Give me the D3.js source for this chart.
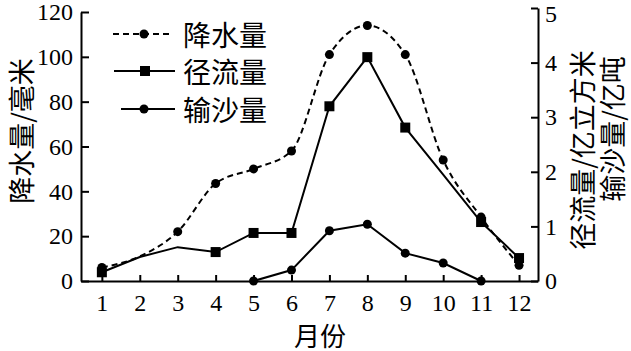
<!DOCTYPE html>
<html>
<head>
<meta charset="utf-8">
<script src="https://cdn.jsdelivr.net/npm/d3@7"></script>
<style>
  html, body { margin: 0; padding: 0; background: #fff; }
  svg { display: block; }
</style>
</head>
<body>
<svg id="chart" width="631" height="351"></svg>
<script>
// ---- data ----
const months = [1, 2, 3, 4, 5, 6, 7, 8, 9, 10, 11, 12];
const precipitation = [6, 11, 22, 43.5, 50, 58, 101, 114, 101, 54, 28.5, 7];      // mm (left axis)
const precipMarked  = [true, false, true, true, true, true, true, true, true, true, true, true];
const runoff = [0.16, 0.44, 0.62, 0.53, 0.88, 0.88, 3.2, 4.1, 2.81, 1.95, 1.08, 0.42]; // 亿立方米 (right axis)
const runoffMarked = [true, false, false, true, true, true, true, true, true, false, true, true];
const sediment = [null, null, null, null, 0, 0.2, 0.92, 1.04, 0.51, 0.33, 0, null];   // 亿吨 (right axis)
const leftTicks = [0, 20, 40, 60, 80, 100, 120];
const rightTicks = [0, 1, 2, 3, 4, 5];
const legendLabels = ["降水量", "径流量", "输沙量"];

// ---- layout ----
const svg = d3.select("#chart");
const numFont = "'Liberation Serif', 'DejaVu Serif', serif";
const cjkFont = "'Noto Sans CJK SC', sans-serif";

const x = d3.scaleLinear().domain([0.45, 12.5]).range([81, 538]);
const yL = d3.scaleLinear().domain([0, 120]).range([281, 12]);
const yR = d3.scaleLinear().domain([0, 5]).range([281, 8]);

// axes
function styleAxis(g) {
  g.selectAll("path.domain").attr("stroke", "#000").attr("stroke-width", 2);
  g.selectAll(".tick line").attr("stroke", "#000").attr("stroke-width", 2);
  g.selectAll(".tick text").attr("fill", "#000").style("font-family", numFont).style("font-size", "24px");
}

svg.append("g").attr("transform", "translate(81,0)")
  .call(d3.axisLeft(yL).tickValues(leftTicks).tickSizeInner(-8).tickSizeOuter(0).tickPadding(8))
  .call(styleAxis);

const rightAxis = svg.append("g").attr("transform", "translate(538,0)")
  .call(d3.axisRight(yR).tickValues(rightTicks).tickFormat(d3.format("d")).tickSizeInner(-7).tickSizeOuter(0).tickPadding(7))
  .call(styleAxis);
rightAxis.selectAll(".tick text").filter(d => d === 5).attr("dy", "0.55em");

svg.append("g").attr("transform", "translate(0,281)")
  .call(d3.axisBottom(x).tickValues(months).tickFormat(d3.format("d")).tickSizeInner(-6).tickSizeOuter(0).tickPadding(13))
  .call(styleAxis);

// lines
const precipLine = d3.line()
  .x((d, i) => x(months[i])).y(d => yL(d))
  .curve(d3.curveMonotoneX);
svg.append("path").datum(precipitation)
  .attr("d", precipLine).attr("fill", "none").attr("stroke", "#000")
  .attr("stroke-width", 2).attr("stroke-dasharray", "6,4");

const runoffLine = d3.line()
  .x((d, i) => x(months[i])).y(d => yR(d));
svg.append("path").datum(runoff)
  .attr("d", runoffLine).attr("fill", "none").attr("stroke", "#000").attr("stroke-width", 2);

const sedLine = d3.line()
  .defined(d => d !== null)
  .x((d, i) => x(months[i])).y(d => yR(d));
svg.append("path").datum(sediment)
  .attr("d", sedLine).attr("fill", "none").attr("stroke", "#000").attr("stroke-width", 2);

// markers
svg.append("g").selectAll("circle")
  .data(precipitation.map((v, i) => ({ m: months[i], v, show: precipMarked[i] })).filter(d => d.show))
  .join("circle")
  .attr("cx", d => x(d.m)).attr("cy", d => yL(d.v)).attr("r", 4.5).attr("fill", "#000");

svg.append("g").selectAll("rect")
  .data(runoff.map((v, i) => ({ m: months[i], v, show: runoffMarked[i] })).filter(d => d.show))
  .join("rect")
  .attr("x", d => x(d.m) - 5).attr("y", d => yR(d.v) - 5).attr("width", 10).attr("height", 10).attr("fill", "#000");

svg.append("g").selectAll("circle")
  .data(sediment.map((v, i) => ({ m: months[i], v })).filter(d => d.v !== null))
  .join("circle")
  .attr("cx", d => x(d.m)).attr("cy", d => yR(d.v)).attr("r", 4.5).attr("fill", "#000");

// legend
const legendRows = [
  { y: 34, x1: 113, x2: 172, dash: "6,4", marker: "circle" },
  { y: 71, x1: 114, x2: 175, dash: null, marker: "square" },
  { y: 109, x1: 121, x2: 175, dash: null, marker: "circle" }
];
const lg = svg.append("g");
legendRows.forEach((r, i) => {
  lg.append("line").attr("x1", r.x1).attr("x2", r.x2).attr("y1", r.y).attr("y2", r.y)
    .attr("stroke", "#000").attr("stroke-width", 2)
    .attr("stroke-dasharray", r.dash);
  if (r.marker === "circle") {
    lg.append("circle").attr("cx", 144).attr("cy", r.y).attr("r", 4.5).attr("fill", "#000");
  } else {
    lg.append("rect").attr("x", 140).attr("y", r.y - 5).attr("width", 10).attr("height", 10).attr("fill", "#000");
  }
  lg.append("text").attr("x", 183).attr("y", r.y).attr("dominant-baseline", "central")
    .style("font-family", cjkFont).style("font-size", "28px").attr("fill", "#000")
    .text(legendLabels[i]);
});

// axis titles
svg.append("text").attr("transform", "translate(20,131) rotate(-90)")
  .attr("text-anchor", "middle").attr("dominant-baseline", "central")
  .style("font-family", cjkFont).style("font-size", "27px").text("降水量/毫米");
svg.append("text").attr("transform", "translate(581,150) rotate(-90)")
  .attr("text-anchor", "middle").attr("dominant-baseline", "central")
  .style("font-family", cjkFont).style("font-size", "27px").text("径流量/亿立方米");
svg.append("text").attr("transform", "translate(611,129) rotate(-90)")
  .attr("text-anchor", "middle").attr("dominant-baseline", "central")
  .style("font-family", cjkFont).style("font-size", "27px").text("输沙量/亿吨");
svg.append("text").attr("x", 320).attr("y", 334)
  .attr("text-anchor", "middle").attr("dominant-baseline", "central")
  .style("font-family", cjkFont).style("font-size", "26px").text("月份");
</script>
</body>
</html>
